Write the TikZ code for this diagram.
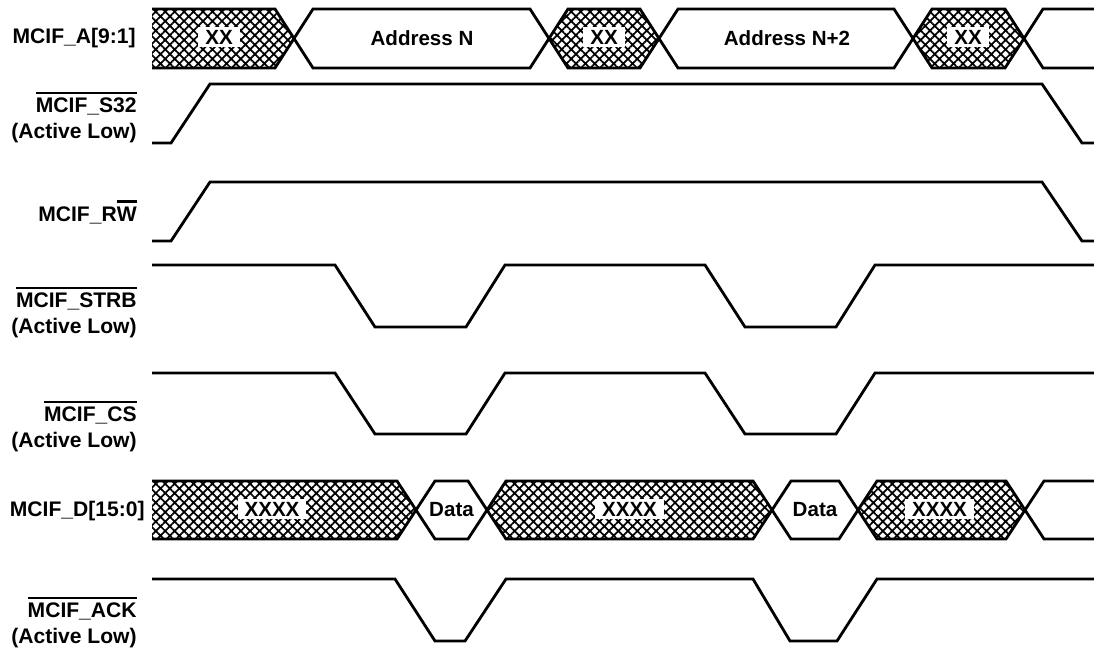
\documentclass[tikz,border=0pt]{standalone}
\usepackage{fontspec}
\setmainfont{Liberation Sans}
\usepackage{tikz}
\usetikzlibrary{patterns.meta}
\newcommand{\barsig}[1]{\setbox0\hbox{#1}\rlap{\rule[\dimexpr\ht0+2.3pt\relax]{\wd0}{1.3pt}}\box0}
\tikzstyle{siglabel} = [anchor=east, align=right, inner sep=0pt,
font=\fontsize{12}{14.7}\selectfont\bfseries]
\tikzstyle{wave} = [draw, line width=1.6pt]
\tikzstyle{busx} = [draw, line width=1.6pt, fill=white]
\tikzstyle{busxx} = [draw, line width=1.6pt, pattern={Hatch[angle=45,distance=3.8pt,line width=1pt]}]
\tikzstyle{tag} = [fill=white, inner xsep=4pt, inner ysep=1.5pt, font=\fontsize{11.7}{13}\selectfont\bfseries]

\begin{document}
\begin{tikzpicture}[x=0.02cm, y=-0.02cm]
    \useasboundingbox (0,0) rectangle (1094,649);

    % Labels
    \node [siglabel] (la) at (136,38.5) {MCIF\_A[9:1]};
    \node [siglabel] (ls32) at (137,117.5) {\barsig{MCIF\_S32}\\(Active Low)};
    \node [siglabel] (lrw) at (137,212) {MCIF\_R\barsig{W}};
    \node [siglabel] (lstrb) at (137,312.5) {\barsig{MCIF\_STRB}\\(Active Low)};
    \node [siglabel] (lcs) at (137,426.5) {\barsig{MCIF\_CS}\\(Active Low)};
    \node [siglabel] (ld) at (145,511) {MCIF\_D[15:0]};
    \node [siglabel] (lack) at (137,622.5) {\barsig{MCIF\_ACK}\\(Active Low)};

    % Address bus
    \path [busxx] (152,9) -- (275,9) -- (294,38.5) -- (275,68) -- (152,68);
    \foreach \a/\b/\s in {294/549/busx, 549/659/busxx, 659/913/busx, 913/1024/busxx}
        \path [\s] (\a,38.5) -- ({\a+19},9) -- ({\b-19},9) -- (\b,38.5) -- ({\b-19},68) -- ({\a+19},68) -- cycle;
    \path [busx] (1094,9) -- (1043,9) -- (1024,38.5) -- (1043,68) -- (1094,68);
    \node [tag] (xx1) at (219,37) {XX};
    \node [tag, fill=none] (addrn) at (422,38) {Address N};
    \node [tag] (xx2) at (604,37) {XX};
    \node [tag, fill=none] (addrn2) at (787,38) {Address N+2};
    \node [tag] (xx3) at (968,37) {XX};

    % Control lines
    \draw [wave] (152,143) -- (171,143) -- (210,84) -- (1042,84) -- (1082,143) -- (1094,143);
    \draw [wave] (152,241) -- (171,241) -- (210,182) -- (1042,182) -- (1082,241) -- (1094,241);
    \draw [wave] (152,265) -- (335,265) -- (375,327) -- (466,327) -- (505,265) -- (705,265) -- (745,327) -- (836,327) -- (875,265) -- (1094,265);
    \draw [wave] (152,373) -- (335,373) -- (375,434) -- (466,434) -- (505,373) -- (705,373) -- (745,434) -- (836,434) -- (875,373) -- (1094,373);

    % Data bus
    \path [busxx] (152,481) -- (397,481) -- (416,510) -- (397,539) -- (152,539);
    \foreach \a/\b/\s in {416/487/busx, 487/772/busxx, 772/858/busx, 858/1025/busxx}
        \path [\s] (\a,510) -- ({\a+19},481) -- ({\b-19},481) -- (\b,510) -- ({\b-19},539) -- ({\a+19},539) -- cycle;
    \path [busx] (1094,481) -- (1044,481) -- (1025,510) -- (1044,539) -- (1094,539);
    \node [tag] (xxxx1) at (272,509) {XXXX};
    \node [tag, fill=none] (data1) at (451.5,510) {Data};
    \node [tag] (xxxx2) at (629.5,509) {XXXX};
    \node [tag, fill=none] (data2) at (815,510) {Data};
    \node [tag] (xxxx3) at (939.5,509) {XXXX};

    % Acknowledge
    \draw [wave] (152,579) -- (395,579) -- (435,641) -- (465,641) -- (506,579) -- (753,579) -- (790,641) -- (837,641) -- (877,579) -- (1094,579);

\end{tikzpicture}
\end{document}
